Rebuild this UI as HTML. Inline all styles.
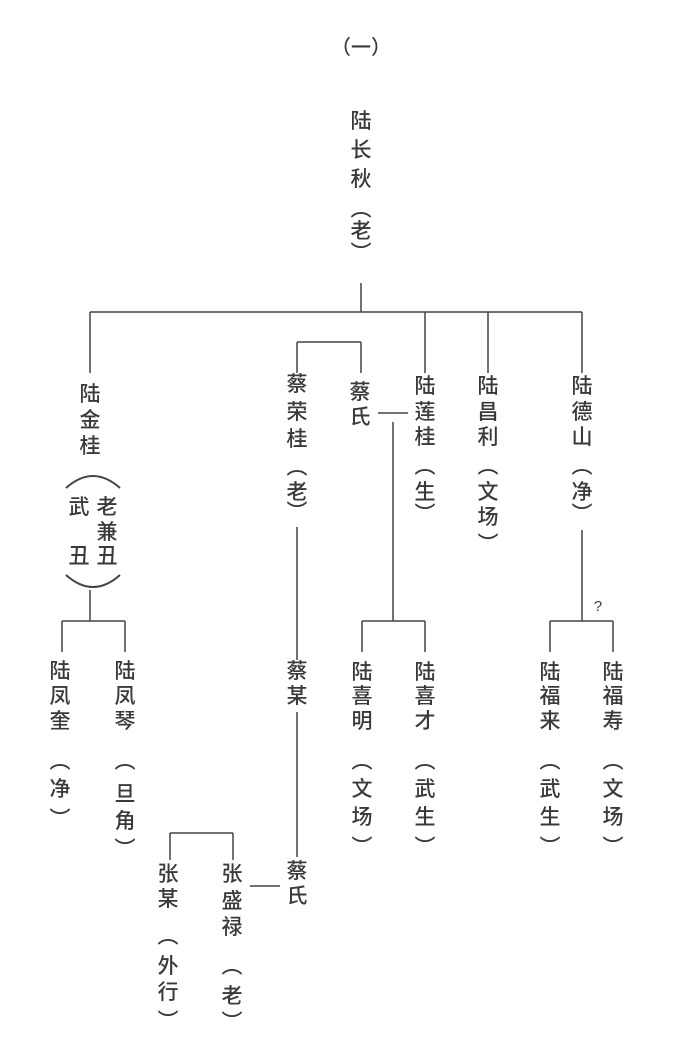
<!DOCTYPE html>
<html><head><meta charset="utf-8"><style>
html,body{margin:0;padding:0;background:#fff;}
#w{position:relative;width:682px;height:1053px;overflow:hidden;font-family:"Liberation Sans","Noto Sans CJK SC",sans-serif;color:#3a3a3a;}
.c{position:absolute;width:26px;height:26px;margin:-13px 0 0 -13px;text-align:center;line-height:26px;font-size:21px;font-weight:500;}
svg{position:absolute;left:0;top:0;}
</style></head><body><div id="w">
<svg width="682" height="1053" fill="none" stroke="#444" stroke-width="1.5">
<path d="M361 283V312M90 312H582M90 312V373M425 312V373M488 312V373M582 312V373"/>
<path d="M297 342H361M297 342V373M361 342V373"/>
<path d="M378 413H408M393 422V621M362 621H425M362 621V652M425 621V652"/>
<path d="M582 530V621M550 621H613M550 621V652M613 621V652"/>
<path d="M90 590V621M62 621H125M62 621V652M125 621V652"/>
<path d="M297 527V660M297 712V857M250 886H280M170 833H233M170 833V860M233 833V860"/>
<path d="M66 488Q93 464 120 488M66 575Q93 599 120 575" stroke-width="2"/>
</svg>
<div class="c" style="left:361px;top:48px;width:70px;margin-left:-35px;font-size:20px">（一）</div>
<div class="c" style="left:361px;top:122px">陆</div><div class="c" style="left:361px;top:151px">长</div><div class="c" style="left:361px;top:180px">秋</div><div class="c" style="left:361px;top:210px">︵</div><div class="c" style="left:361px;top:232px">老</div><div class="c" style="left:361px;top:254px">︶</div>
<div class="c" style="left:90px;top:395px">陆</div><div class="c" style="left:90px;top:421px">金</div><div class="c" style="left:90px;top:447px">桂</div>
<div class="c" style="left:79px;top:508px">武</div><div class="c" style="left:79px;top:557px">丑</div><div class="c" style="left:107px;top:508px">老</div><div class="c" style="left:107px;top:533px">兼</div><div class="c" style="left:107px;top:557px">丑</div>
<div class="c" style="left:297px;top:385px">蔡</div><div class="c" style="left:297px;top:413px">荣</div><div class="c" style="left:297px;top:440px">桂</div><div class="c" style="left:297px;top:468px">︵</div><div class="c" style="left:297px;top:493px">老</div><div class="c" style="left:297px;top:513px">︶</div>
<div class="c" style="left:360px;top:393px">蔡</div><div class="c" style="left:360px;top:418px">氏</div>
<div class="c" style="left:425px;top:387px">陆</div><div class="c" style="left:425px;top:413px">莲</div><div class="c" style="left:425px;top:438px">桂</div><div class="c" style="left:425px;top:467px">︵</div><div class="c" style="left:425px;top:493px">生</div><div class="c" style="left:425px;top:515px">︶</div>
<div class="c" style="left:488px;top:387px">陆</div><div class="c" style="left:488px;top:413px">昌</div><div class="c" style="left:488px;top:438px">利</div><div class="c" style="left:488px;top:467px">︵</div><div class="c" style="left:488px;top:493px">文</div><div class="c" style="left:488px;top:518px">场</div><div class="c" style="left:488px;top:545px">︶</div>
<div class="c" style="left:582px;top:387px">陆</div><div class="c" style="left:582px;top:413px">德</div><div class="c" style="left:582px;top:438px">山</div><div class="c" style="left:582px;top:467px">︵</div><div class="c" style="left:582px;top:493px">净</div><div class="c" style="left:582px;top:515px">︶</div>
<div class="c" style="left:598px;top:607px;font-size:15px">?</div>
<div class="c" style="left:60px;top:672px">陆</div><div class="c" style="left:60px;top:697px">凤</div><div class="c" style="left:60px;top:722px">奎</div><div class="c" style="left:60px;top:762px">︵</div><div class="c" style="left:60px;top:790px">净</div><div class="c" style="left:60px;top:820px">︶</div>
<div class="c" style="left:125px;top:672px">陆</div><div class="c" style="left:125px;top:697px">凤</div><div class="c" style="left:125px;top:722px">琴</div><div class="c" style="left:125px;top:762px">︵</div><div class="c" style="left:125px;top:795px">旦</div><div class="c" style="left:125px;top:822px">角</div><div class="c" style="left:125px;top:850px">︶</div>
<div class="c" style="left:297px;top:672px">蔡</div><div class="c" style="left:297px;top:697px">某</div>
<div class="c" style="left:362px;top:673px">陆</div><div class="c" style="left:362px;top:697px">喜</div><div class="c" style="left:362px;top:722px">明</div><div class="c" style="left:362px;top:762px">︵</div><div class="c" style="left:362px;top:790px">文</div><div class="c" style="left:362px;top:818px">场</div><div class="c" style="left:362px;top:848px">︶</div>
<div class="c" style="left:425px;top:673px">陆</div><div class="c" style="left:425px;top:697px">喜</div><div class="c" style="left:425px;top:722px">才</div><div class="c" style="left:425px;top:762px">︵</div><div class="c" style="left:425px;top:790px">武</div><div class="c" style="left:425px;top:818px">生</div><div class="c" style="left:425px;top:848px">︶</div>
<div class="c" style="left:550px;top:673px">陆</div><div class="c" style="left:550px;top:697px">福</div><div class="c" style="left:550px;top:722px">来</div><div class="c" style="left:550px;top:762px">︵</div><div class="c" style="left:550px;top:790px">武</div><div class="c" style="left:550px;top:818px">生</div><div class="c" style="left:550px;top:848px">︶</div>
<div class="c" style="left:613px;top:673px">陆</div><div class="c" style="left:613px;top:697px">福</div><div class="c" style="left:613px;top:722px">寿</div><div class="c" style="left:613px;top:762px">︵</div><div class="c" style="left:613px;top:790px">文</div><div class="c" style="left:613px;top:818px">场</div><div class="c" style="left:613px;top:848px">︶</div>
<div class="c" style="left:297px;top:872px">蔡</div><div class="c" style="left:297px;top:897px">氏</div>
<div class="c" style="left:232px;top:875px">张</div><div class="c" style="left:232px;top:902px">盛</div><div class="c" style="left:232px;top:928px">禄</div><div class="c" style="left:232px;top:967px">︵</div><div class="c" style="left:232px;top:997px">老</div><div class="c" style="left:232px;top:1023px">︶</div>
<div class="c" style="left:168px;top:875px">张</div><div class="c" style="left:168px;top:900px">某</div><div class="c" style="left:168px;top:937px">︵</div><div class="c" style="left:168px;top:967px">外</div><div class="c" style="left:168px;top:993px">行</div><div class="c" style="left:168px;top:1022px">︶</div>
</div></body></html>
